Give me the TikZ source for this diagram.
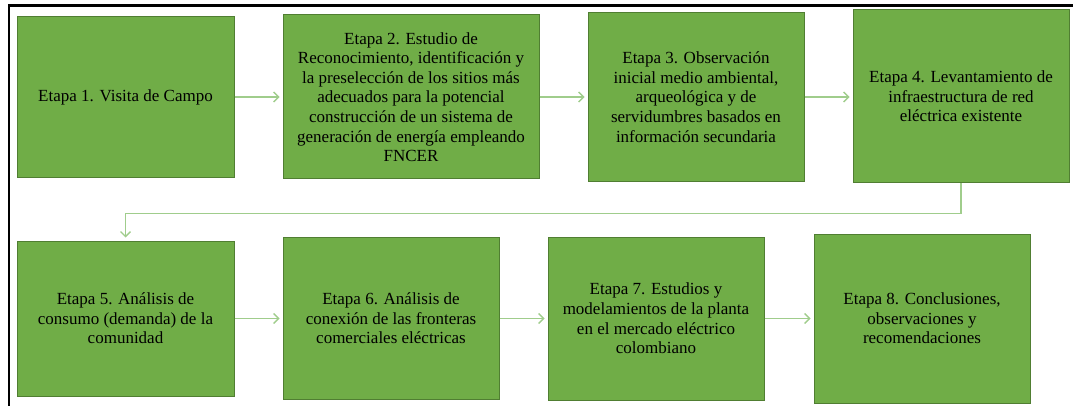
\documentclass[tikz,border=0pt]{standalone}
\usepackage{fontspec}
\setmainfont{Liberation Serif}
\newfontfamily\etapafont{Liberation Serif}
\usetikzlibrary{arrows.meta}
\definecolor{etapaFill}{RGB}{112,173,71}
\definecolor{etapaBorder}{RGB}{80,126,50}
\definecolor{flechaColor}{RGB}{160,205,140}
\begin{document}
\begin{tikzpicture}[x=1pt, y=-1pt,
  etapa/.style={draw=etapaBorder, line width=1pt, fill=etapaFill, text=black,
    align=center, inner sep=0pt, font=\etapafont\fontsize{17}{19.6}\selectfont},
  flecha/.style={draw=flechaColor, line width=1.4pt,
    -{Straight Barb[length=5pt,width=10pt]}, shorten >=3pt}]
\useasboundingbox (0,0) rectangle (1073,406);
% Frame (top and left edges only)
\draw[line width=2.5pt] (9,406) -- (9,5.5) -- (1073,5.5);
% First row
\node[etapa, minimum width=217pt, minimum height=161pt] (etapa1) at (125.5,97)
  {Etapa 1. Visita de Campo};
\node[etapa, minimum width=256pt, minimum height=164pt] (etapa2) at (411,97)
  {Etapa 2. Estudio de\\Reconocimiento, identificación y\\la preselección de los sitios más\\adecuados para la potencial\\construcción de un sistema de\\generación de energía empleando\\FNCER};
\node[etapa, minimum width=216pt, minimum height=169pt] (etapa3) at (696,97)
  {Etapa 3. Observación\\inicial medio ambiental,\\arqueológica y de\\servidumbres basados en\\información secundaria};
\node[etapa, minimum width=216pt, minimum height=173pt] (etapa4) at (961,96.5)
  {Etapa 4. Levantamiento de\\infraestructura de red\\eléctrica existente};
% Second row
\node[etapa, minimum width=217pt, minimum height=155pt] (etapa5) at (125.5,318.5)
  {Etapa 5. Análisis de\\consumo (demanda) de la\\comunidad};
\node[etapa, minimum width=216pt, minimum height=162pt] (etapa6) at (391,318.5)
  {Etapa 6. Análisis de\\conexión de las fronteras\\comerciales eléctricas};
\node[etapa, minimum width=216pt, minimum height=163pt] (etapa7) at (656,318.5)
  {Etapa 7. Estudios y\\modelamientos de la planta\\en el mercado eléctrico\\colombiano};
\node[etapa, minimum width=216pt, minimum height=169pt] (etapa8) at (922,318.5)
  {Etapa 8. Conclusiones,\\observaciones y\\recomendaciones};
% Connectors
\draw[flecha] (etapa1.east) -- (etapa2.west);
\draw[flecha] (etapa2.east) -- (etapa3.west);
\draw[flecha] (etapa3.east) -- (etapa3.east -| etapa4.west);
\draw[flecha] (etapa4.south) -- ++(0,30) -| (etapa5.north);
\draw[flecha] (etapa5.east) -- (etapa6.west);
\draw[flecha] (etapa6.east) -- (etapa7.west);
\draw[flecha] (etapa7.east) -- (etapa8.west);
\end{tikzpicture}
\end{document}
